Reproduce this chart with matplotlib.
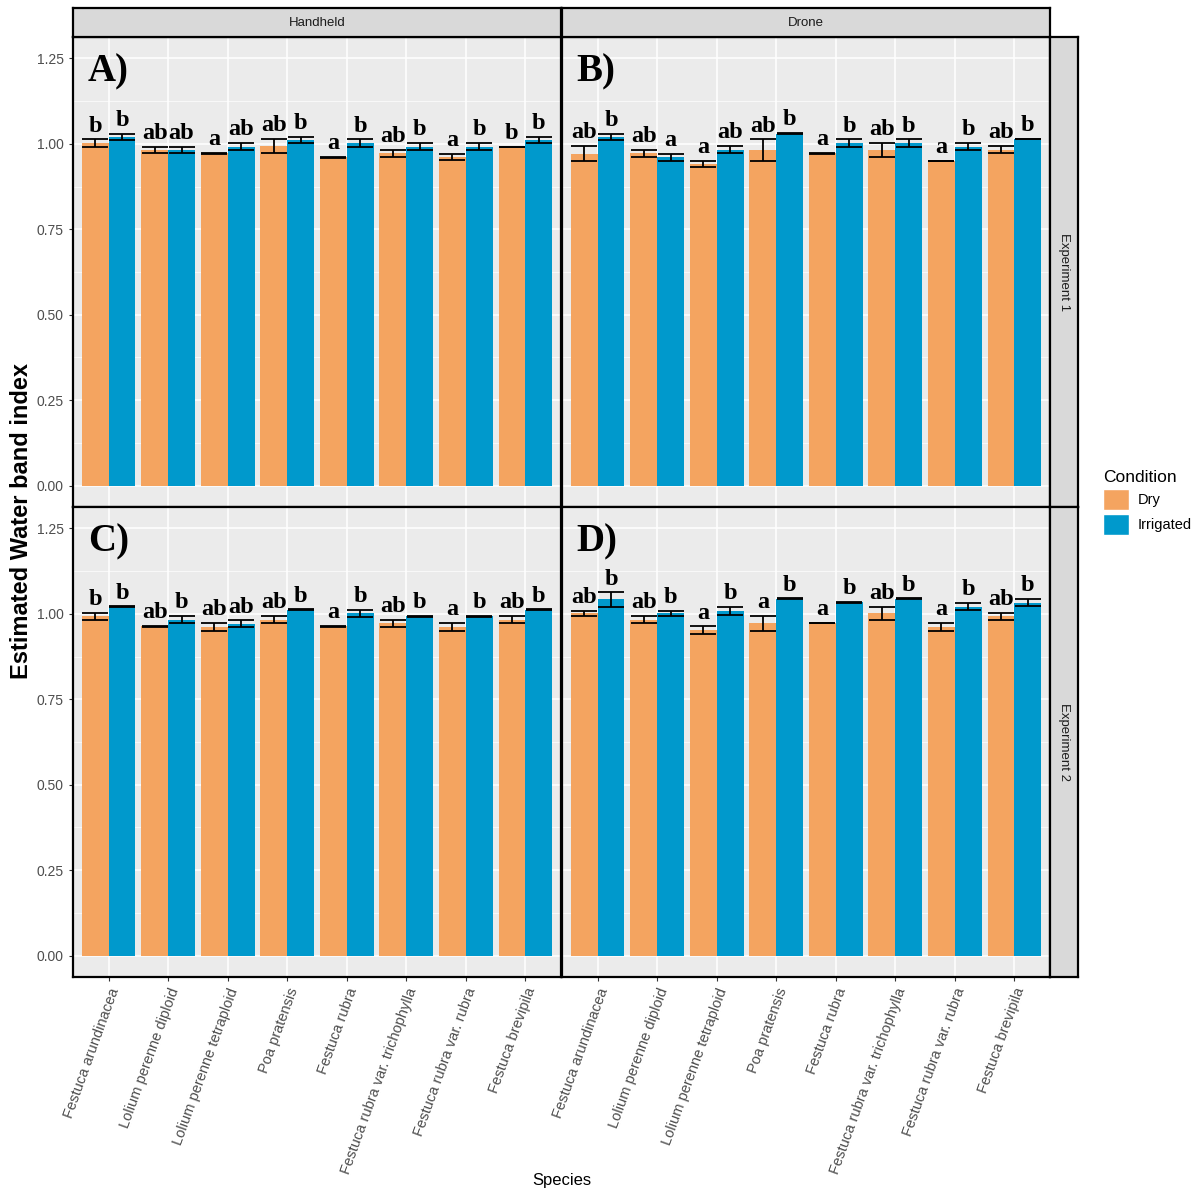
import numpy as np
import matplotlib
matplotlib.use('Agg')
from matplotlib import pyplot as plt
from matplotlib.patches import Patch

species = ['Festuca arundinacea', 'Lolium perenne diploid', 'Lolium perenne tetraploid',
           'Poa pratensis', 'Festuca rubra', 'Festuca rubra var. trichophylla',
           'Festuca rubra var. rubra', 'Festuca brevipila']
devices = ['Handheld', 'Drone']
experiments = ['Experiment 1', 'Experiment 2']
panel_tags = ['A)', 'B)', 'C)', 'D)']

# A) Handheld, Experiment 1
a_dry = [1.002, 0.982, 0.972, 0.993, 0.960, 0.972, 0.961, 0.991]
a_dry_se = [0.011, 0.010, 0.001, 0.021, 0.001, 0.010, 0.009, 0.001]
a_irr = [1.020, 0.982, 0.992, 1.011, 1.002, 0.992, 0.992, 1.011]
a_irr_se = [0.010, 0.010, 0.010, 0.009, 0.011, 0.010, 0.010, 0.009]
a_dry_let = ['b', 'ab', 'a', 'ab', 'a', 'ab', 'a', 'b']
a_irr_let = ['b', 'ab', 'ab', 'b', 'b', 'b', 'b', 'b']

# B) Drone, Experiment 1
b_dry = [0.971, 0.972, 0.942, 0.982, 0.972, 0.982, 0.950, 0.983]
b_dry_se = [0.022, 0.010, 0.009, 0.031, 0.001, 0.021, 0.001, 0.011]
b_irr = [1.020, 0.960, 0.983, 1.030, 1.002, 1.002, 0.992, 1.014]
b_irr_se = [0.010, 0.010, 0.011, 0.001, 0.011, 0.011, 0.010, 0.001]
b_dry_let = ['ab', 'ab', 'a', 'ab', 'a', 'ab', 'a', 'ab']
b_irr_let = ['b', 'a', 'ab', 'b', 'b', 'b', 'b', 'b']

# C) Handheld, Experiment 2
c_dry = [0.993, 0.963, 0.962, 0.983, 0.963, 0.972, 0.962, 0.983]
c_dry_se = [0.010, 0.001, 0.011, 0.010, 0.001, 0.011, 0.011, 0.010]
c_irr = [1.021, 0.983, 0.971, 1.012, 1.002, 0.993, 0.993, 1.012]
c_irr_se = [0.001, 0.010, 0.010, 0.001, 0.010, 0.001, 0.001, 0.001]
c_dry_let = ['b', 'ab', 'ab', 'ab', 'a', 'ab', 'a', 'ab']
c_irr_let = ['b', 'b', 'ab', 'b', 'b', 'b', 'b', 'b']

# D) Drone, Experiment 2
d_dry = [1.001, 0.983, 0.952, 0.972, 0.973, 1.001, 0.962, 0.993]
d_dry_se = [0.008, 0.010, 0.011, 0.021, 0.001, 0.020, 0.011, 0.010]
d_irr = [1.042, 1.001, 1.009, 1.044, 1.034, 1.044, 1.021, 1.033]
d_irr_se = [0.021, 0.008, 0.012, 0.001, 0.001, 0.001, 0.011, 0.011]
d_dry_let = ['ab', 'ab', 'a', 'a', 'a', 'ab', 'a', 'ab']
d_irr_let = ['b', 'b', 'b', 'b', 'b', 'b', 'b', 'b']

panels = [
    (a_dry, a_dry_se, a_irr, a_irr_se, a_dry_let, a_irr_let),
    (b_dry, b_dry_se, b_irr, b_irr_se, b_dry_let, b_irr_let),
    (c_dry, c_dry_se, c_irr, c_irr_se, c_dry_let, c_irr_let),
    (d_dry, d_dry_se, d_irr, d_irr_se, d_dry_let, d_irr_let),
]

col_dry = '#F4A460'
col_irr = '#0099CC'
sans = 'Liberation Sans'
serif = 'Liberation Serif'

W, H = 1203, 1193
fig = plt.figure(figsize=(W / 100, H / 100), dpi=100)

def fx(px):
    return px / W

def fy(py):
    return 1 - py / H

left_x = [73, 562]
pw = 488
top_y = [37, 507]
ph = 470

x = np.arange(1, len(species) + 1)
bw = 0.45
cap = bw / 2 * 59.5 * 72 / 100  # half bar width in points

for r in range(2):
    for c in range(2):
        i = r * 2 + c
        ax = fig.add_axes([fx(left_x[c]), fy(top_y[r] + ph), fx(pw), ph / H])
        dry, dry_se, irr, irr_se, dlet, ilet = panels[i]
        ax.set_facecolor('#EBEBEB')
        ax.set_axisbelow(True)
        ax.set_xlim(0.4, 8.6)
        ax.set_ylim(-0.0625, 1.3125)
        ax.set_yticks([0, 0.25, 0.5, 0.75, 1.0, 1.25])
        ax.set_yticks([0.125, 0.375, 0.625, 0.875, 1.125], minor=True)
        ax.set_xticks(x)
        ax.grid(which='major', color='white', lw=1.1)
        ax.grid(which='minor', axis='y', color='white', lw=0.5)
        ax.bar(x - bw / 2, dry, bw, color=col_dry, zorder=2)
        ax.bar(x + bw / 2, irr, bw, color=col_irr, zorder=2)
        ax.errorbar(x - bw / 2, dry, yerr=dry_se, fmt='none', ecolor='black',
                    elinewidth=1.3, capsize=cap, capthick=1.3, zorder=3)
        ax.errorbar(x + bw / 2, irr, yerr=irr_se, fmt='none', ecolor='black',
                    elinewidth=1.3, capsize=cap, capthick=1.3, zorder=3)
        for j in range(len(species)):
            ax.annotate(dlet[j], (x[j] - bw / 2, dry[j] + dry_se[j]), xytext=(0, 2),
                        textcoords='offset points', ha='center', va='bottom',
                        fontsize=17.5, fontweight='bold', family=serif, zorder=4)
            ax.annotate(ilet[j], (x[j] + bw / 2, irr[j] + irr_se[j]), xytext=(0, 2),
                        textcoords='offset points', ha='center', va='bottom',
                        fontsize=17.5, fontweight='bold', family=serif, zorder=4)
        ax.text(0.03, 0.965, panel_tags[i], transform=ax.transAxes, ha='left', va='top',
                fontsize=28, fontweight='bold', family=serif)
        for s in ax.spines.values():
            s.set_color('black')
            s.set_linewidth(1.6)
        ax.tick_params(which='both', color='#333333', length=3, width=0.8,
                       labelcolor='#4D4D4D', labelsize=10)
        ax.tick_params(which='minor', length=0)
        if c == 0:
            ax.set_yticklabels(['0.00', '0.25', '0.50', '0.75', '1.00', '1.25'], family=sans)
        else:
            ax.tick_params(axis='y', which='both', left=False, labelleft=False)
        if r == 1:
            ax.set_xticklabels(species, rotation=70, ha='right', rotation_mode='anchor',
                               family=sans, fontsize=10.5)
        else:
            ax.tick_params(axis='x', bottom=False, labelbottom=False)

# strips
for c in range(2):
    sax = fig.add_axes([fx(left_x[c]), fy(37), fx(pw), 29 / H])
    sax.set_facecolor('#D9D9D9')
    sax.set_xticks([])
    sax.set_yticks([])
    for s in sax.spines.values():
        s.set_linewidth(1.6)
    sax.text(0.5, 0.5, devices[c], ha='center', va='center', fontsize=9.5,
             color='#1A1A1A', family=sans)
for r in range(2):
    sax = fig.add_axes([fx(1050), fy(top_y[r] + ph), fx(28), ph / H])
    sax.set_facecolor('#D9D9D9')
    sax.set_xticks([])
    sax.set_yticks([])
    for s in sax.spines.values():
        s.set_linewidth(1.6)
    sax.text(0.5, 0.5, experiments[r], ha='center', va='center', fontsize=9.5,
             rotation=-90, color='#1A1A1A', family=sans)

fig.text(fx(22), fy(521), 'Estimated Water band index', rotation=90, ha='center',
         va='center', fontsize=17, fontweight='bold', family=sans)
fig.text(fx(562), fy(1181), 'Species', ha='center', va='center', fontsize=12, family=sans)

handles = [Patch(facecolor=col_dry, edgecolor='white', label='Dry'),
           Patch(facecolor=col_irr, edgecolor='white', label='Irrigated')]
leg = fig.legend(handles=handles, title='Condition', loc='upper left',
                 bbox_to_anchor=(fx(1097), fy(464)), frameon=False,
                 prop={'family': sans, 'size': 10.5}, handlelength=1.8, handleheight=1.8,
                 handletextpad=0.6, labelspacing=0.3, borderaxespad=0)
leg.get_title().set_fontsize(12.5)
leg.get_title().set_family(sans)
leg._legend_box.align = 'left'

fig.savefig('out.png', dpi=100)
